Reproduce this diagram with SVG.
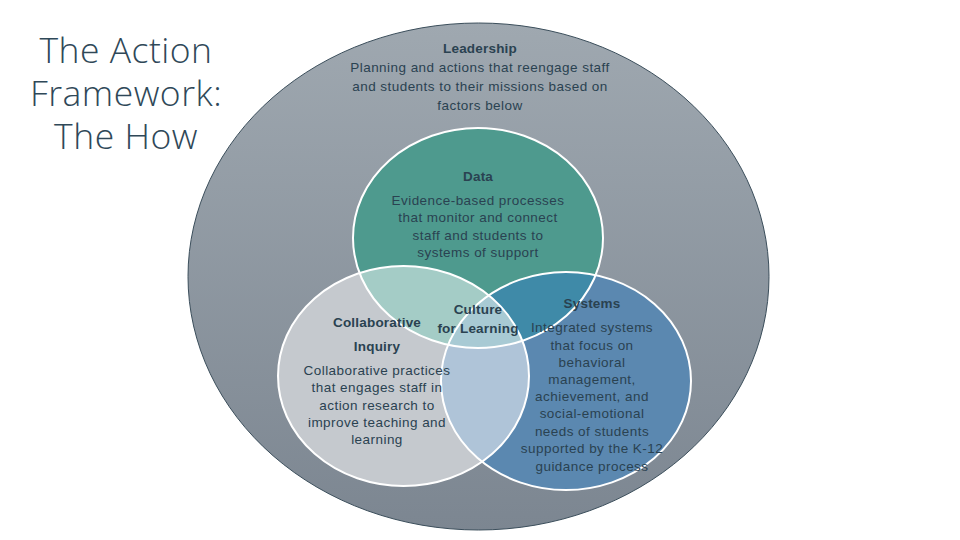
<svg xmlns="http://www.w3.org/2000/svg" width="960" height="540" viewBox="0 0 960 540">
<defs>
<linearGradient id="bigGrad" x1="0" y1="0" x2="0" y2="1">
<stop offset="0" stop-color="#9fa8b0"/>
<stop offset="1" stop-color="#7c8691"/>
</linearGradient>
<clipPath id="clipData"><ellipse cx="478" cy="238" rx="125" ry="110"/></clipPath>
<clipPath id="clipCollab"><ellipse cx="403.5" cy="376" rx="125.5" ry="110"/></clipPath>
<clipPath id="clipSys"><ellipse cx="566" cy="381" rx="125" ry="109"/></clipPath>
</defs>
<style>
.t{font-family:"Liberation Sans","Noto Sans",Arial,sans-serif;font-size:13.5px;letter-spacing:0.45px;fill:#2a4251;text-anchor:middle}
.b{font-weight:bold;letter-spacing:0.2px}
.title{font-family:"Open Sans","Lato","Liberation Sans",sans-serif;font-weight:300;font-size:35.5px;letter-spacing:0.5px;fill:#2f4858;text-anchor:middle}
.ring{fill:none;stroke:#ffffff;stroke-width:2}
</style>
<rect width="960" height="540" fill="#ffffff"/>
<g id="title">
<text class="title" x="126" y="63">The Action</text>
<text class="title" x="126" y="106">Framework:</text>
<text class="title" x="126" y="149">The How</text>
</g>
<g id="leadership">
<ellipse cx="478.5" cy="276.5" rx="290.5" ry="253.5" fill="url(#bigGrad)" stroke="#3b4e5b" stroke-width="1"/>
</g>
<g id="circles">
<ellipse id="data-fill" cx="478" cy="238" rx="125" ry="110" fill="#4e9a8e"/>
<ellipse id="collab-fill" cx="403.5" cy="376" rx="125.5" ry="110" fill="#c5c9ce"/>
<ellipse id="sys-fill" cx="566" cy="381" rx="125" ry="109" fill="#5b88b0"/>
<g clip-path="url(#clipData)">
<ellipse cx="403.5" cy="376" rx="125.5" ry="110" fill="#a4ccc6"/>
<ellipse cx="566" cy="381" rx="125" ry="109" fill="#3f8aa8"/>
</g>
<g clip-path="url(#clipCollab)">
<ellipse cx="566" cy="381" rx="125" ry="109" fill="#afc4d8"/>
</g>
<g clip-path="url(#clipCollab)">
<g clip-path="url(#clipSys)">
<ellipse cx="478" cy="238" rx="125" ry="110" fill="#a8cad4"/>
</g>
</g>
<ellipse class="ring" cx="478" cy="238" rx="125" ry="110"/>
<ellipse class="ring" cx="403.5" cy="376" rx="125.5" ry="110"/>
<ellipse class="ring" cx="566" cy="381" rx="125" ry="109"/>
</g>
<g id="leadership-text">
<text class="t b" x="480" y="53">Leadership</text>
<text class="t" x="480" y="72">Planning and actions that reengage staff</text>
<text class="t" x="480" y="91">and students to their missions based on</text>
<text class="t" x="480" y="110">factors below</text>
</g>
<g id="data">
<text class="t b" x="478" y="181">Data</text>
<text class="t" x="478" y="205">Evidence-based processes</text>
<text class="t" x="478" y="222">that monitor and connect</text>
<text class="t" x="478" y="240">staff and students to</text>
<text class="t" x="478" y="257">systems of support</text>
</g>
<g id="culture">
<text class="t b" x="478" y="314">Culture</text>
<text class="t b" x="478" y="333">for Learning</text>
</g>
<g id="collaborative">
<text class="t b" x="377" y="327">Collaborative</text>
<text class="t b" x="377" y="351">Inquiry</text>
<text class="t" x="377" y="375">Collaborative practices</text>
<text class="t" x="377" y="392">that engages staff in</text>
<text class="t" x="377" y="410">action research to</text>
<text class="t" x="377" y="427">improve teaching and</text>
<text class="t" x="377" y="444">learning</text>
</g>
<g id="systems">
<text class="t b" x="592" y="308">Systems</text>
<text class="t" x="592" y="332">Integrated systems</text>
<text class="t" x="592" y="350">that focus on</text>
<text class="t" x="592" y="367">behavioral</text>
<text class="t" x="592" y="384">management,</text>
<text class="t" x="592" y="401">achievement, and</text>
<text class="t" x="592" y="418">social-emotional</text>
<text class="t" x="592" y="436">needs of students</text>
<text class="t" x="592" y="453">supported by the K-12</text>
<text class="t" x="592" y="471">guidance process</text>
</g>
<g id="connectors"></g>
</svg>
